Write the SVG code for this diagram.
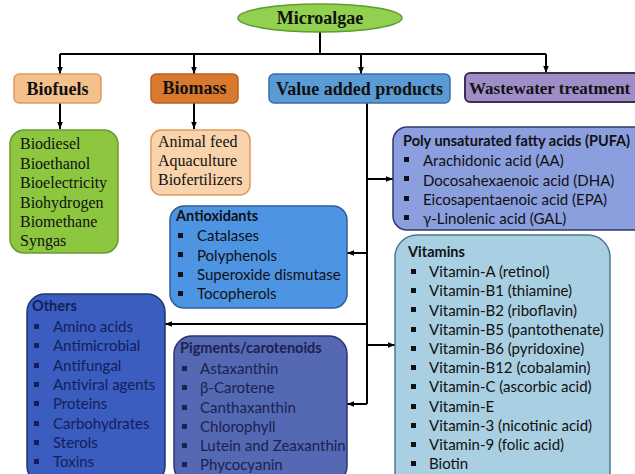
<svg xmlns="http://www.w3.org/2000/svg" width="635" height="474" viewBox="0 0 635 474">
<defs>
<marker id="ah" viewBox="0 0 10 10" refX="10" refY="5" markerWidth="7" markerHeight="7" markerUnits="userSpaceOnUse" orient="auto">
<path d="M0,1 L10,5 L0,9 Z" fill="#000"/>
</marker>
</defs>
<style>
.hd{font-family:"Liberation Serif","Times New Roman",serif;font-weight:bold;font-size:18px;fill:#111;}
.sl{font-family:"Liberation Serif","Times New Roman",serif;font-size:16px;fill:#111;}
.tt{font-family:Lato,"Open Sans",sans-serif;font-weight:bold;font-size:14.5px;}
.it{font-family:Lato,"Open Sans",sans-serif;font-size:15px;}
.con{stroke:#000;stroke-width:2;fill:none;}
.arr{marker-end:url(#ah);}
</style>
<rect width="635" height="474" fill="#fff"/>

<g id="connectors">
<path class="con" d="M320,32 V54"/>
<path class="con" d="M60,54 H546"/>
<path class="con arr" d="M60,54 V74"/>
<path class="con arr" d="M194,54 V74"/>
<path class="con arr" d="M361,54 V74"/>
<path class="con arr" d="M546,54 V73"/>
<path class="con arr" d="M60,103 V129"/>
<path class="con arr" d="M194,103 V129"/>
<path class="con" d="M367,103 V404"/>
<path class="con arr" d="M367,179 H393"/>
<path class="con arr" d="M367,253 H347"/>
<path class="con arr" d="M367,324 H165"/>
<path class="con arr" d="M367,345 H395"/>
<path class="con arr" d="M367,404 H347"/>
</g>

<g id="microalgae">
<ellipse cx="320" cy="18" rx="82" ry="14" fill="#92d050" stroke="#5e9a2e" stroke-width="1.5"/>
<text class="hd" x="320" y="24" text-anchor="middle">Microalgae</text>
</g>

<g id="biofuels">
<rect x="14" y="74" width="87" height="29" rx="5" fill="#f4c08c" stroke="#e09a58" stroke-width="1.5"/>
<text class="hd" x="57.5" y="95" text-anchor="middle">Biofuels</text>
</g>

<g id="biomass">
<rect x="151" y="74" width="87" height="29" rx="5" fill="#d9782f" stroke="#b85f20" stroke-width="1.5"/>
<text class="hd" x="194.5" y="94" text-anchor="middle">Biomass</text>
</g>

<g id="value-added">
<rect x="269" y="74" width="181" height="29" rx="5" fill="#5b9bd5" stroke="#3a6ea8" stroke-width="1.5"/>
<text class="hd" x="359.5" y="95" text-anchor="middle">Value added products</text>
</g>

<g id="wastewater">
<rect x="465" y="73" width="185" height="29" rx="5" fill="#9e8dc6" stroke="#3a3050" stroke-width="2"/>
<text class="hd" x="469" y="94" style="font-size:17px">Wastewater treatment</text>
</g>

<g id="biofuels-list">
<rect x="10" y="130" width="108" height="123" rx="14" fill="#8dc63f" stroke="#6a9a30" stroke-width="1.5"/>
<text class="sl" x="20" y="149">Biodiesel</text>
<text class="sl" x="20" y="168.5">Bioethanol</text>
<text class="sl" x="20" y="188">Bioelectricity</text>
<text class="sl" x="20" y="207.5">Biohydrogen</text>
<text class="sl" x="20" y="227">Biomethane</text>
<text class="sl" x="20" y="246">Syngas</text>
</g>

<g id="biomass-list">
<rect x="151" y="130" width="99" height="65" rx="10" fill="#f8d3ab" stroke="#e09a58" stroke-width="1.5"/>
<text class="sl" x="158" y="147">Animal feed</text>
<text class="sl" x="158" y="166">Aquaculture</text>
<text class="sl" x="158" y="185">Biofertilizers</text>
</g>

<g id="pufa" fill="#111">
<rect x="393" y="127" width="260" height="103" rx="14" fill="#8b9ede" stroke="#2d3a6a" stroke-width="1.5"/>
<text class="tt" x="403" y="146">Poly unsaturated fatty acids (PUFA)</text>
<g class="it">
<rect x="404" y="157" width="5" height="5"/><text x="423" y="166">Arachidonic acid (AA)</text>
<rect x="404" y="176" width="5" height="5"/><text x="423" y="186">Docosahexaenoic acid (DHA)</text>
<rect x="404" y="196" width="5" height="5"/><text x="423" y="205">Eicosapentaenoic acid (EPA)</text>
<rect x="404" y="215" width="5" height="5"/><text x="423" y="224">γ-Linolenic acid (GAL)</text>
</g>
</g>

<g id="antioxidants" fill="#111">
<rect x="170" y="206" width="177" height="102" rx="14" fill="#4d94e3" stroke="#2f5f9a" stroke-width="1.5"/>
<text class="tt" x="176" y="221">Antioxidants</text>
<g class="it">
<rect x="178" y="233" width="5" height="5"/><text x="197" y="241">Catalases</text>
<rect x="178" y="252" width="5" height="5"/><text x="197" y="261">Polyphenols</text>
<rect x="178" y="272" width="5" height="5"/><text x="197" y="280">Superoxide dismutase</text>
<rect x="178" y="291" width="5" height="5"/><text x="197" y="299">Tocopherols</text>
</g>
</g>

<g id="vitamins" fill="#111">
<rect x="395" y="235" width="215" height="260" rx="22" fill="#a9cfe2" stroke="#4a7a90" stroke-width="1.5"/>
<text class="tt" x="408" y="257">Vitamins</text>
<g class="it">
<rect x="411" y="269" width="5" height="5"/><text x="429" y="277">Vitamin-A (retinol)</text>
<rect x="411" y="288" width="5" height="5"/><text x="429" y="296">Vitamin-B1 (thiamine)</text>
<rect x="411" y="307" width="5" height="5"/><text x="429" y="316">Vitamin-B2 (riboflavin)</text>
<rect x="411" y="327" width="5" height="5"/><text x="429" y="335">Vitamin-B5 (pantothenate)</text>
<rect x="411" y="346" width="5" height="5"/><text x="429" y="354">Vitamin-B6 (pyridoxine)</text>
<rect x="411" y="365" width="5" height="5"/><text x="429" y="373">Vitamin-B12 (cobalamin)</text>
<rect x="411" y="384" width="5" height="5"/><text x="429" y="392">Vitamin-C (ascorbic acid)</text>
<rect x="411" y="404" width="5" height="5"/><text x="429" y="412">Vitamin-E</text>
<rect x="411" y="423" width="5" height="5"/><text x="429" y="431">Vitamin-3 (nicotinic acid)</text>
<rect x="411" y="442" width="5" height="5"/><text x="429" y="450">Vitamin-9 (folic acid)</text>
<rect x="411" y="461" width="5" height="5"/><text x="429" y="469">Biotin</text>
</g>
</g>

<g id="others" fill="#14205a">
<rect x="27" y="294" width="138" height="190" rx="18" fill="#3a5dbf" stroke="#1f3570" stroke-width="1.5"/>
<text class="tt" x="32" y="311">Others</text>
<g class="it">
<rect x="34" y="324" width="5" height="5"/><text x="53" y="332">Amino acids</text>
<rect x="34" y="343" width="5" height="5"/><text x="53" y="351">Antimicrobial</text>
<rect x="34" y="363" width="5" height="5"/><text x="53" y="371">Antifungal</text>
<rect x="34" y="382" width="5" height="5"/><text x="53" y="390">Antiviral agents</text>
<rect x="34" y="401" width="5" height="5"/><text x="53" y="409">Proteins</text>
<rect x="34" y="421" width="5" height="5"/><text x="53" y="429">Carbohydrates</text>
<rect x="34" y="440" width="5" height="5"/><text x="53" y="448">Sterols</text>
<rect x="34" y="459" width="5" height="5"/><text x="53" y="467">Toxins</text>
</g>
</g>

<g id="pigments" fill="#1a2250">
<rect x="174" y="336" width="173" height="148" rx="18" fill="#5568b3" stroke="#2a3570" stroke-width="1.5"/>
<text class="tt" x="180" y="353">Pigments/carotenoids</text>
<g class="it">
<rect x="182" y="366" width="5" height="5"/><text x="200" y="374">Astaxanthin</text>
<rect x="182" y="385" width="5" height="5"/><text x="200" y="393">β-Carotene</text>
<rect x="182" y="405" width="5" height="5"/><text x="200" y="413">Canthaxanthin</text>
<rect x="182" y="424" width="5" height="5"/><text x="200" y="432">Chlorophyll</text>
<rect x="182" y="443" width="5" height="5"/><text x="200" y="451">Lutein and Zeaxanthin</text>
<rect x="182" y="462" width="5" height="5"/><text x="200" y="470">Phycocyanin</text>
</g>
</g>
</svg>
